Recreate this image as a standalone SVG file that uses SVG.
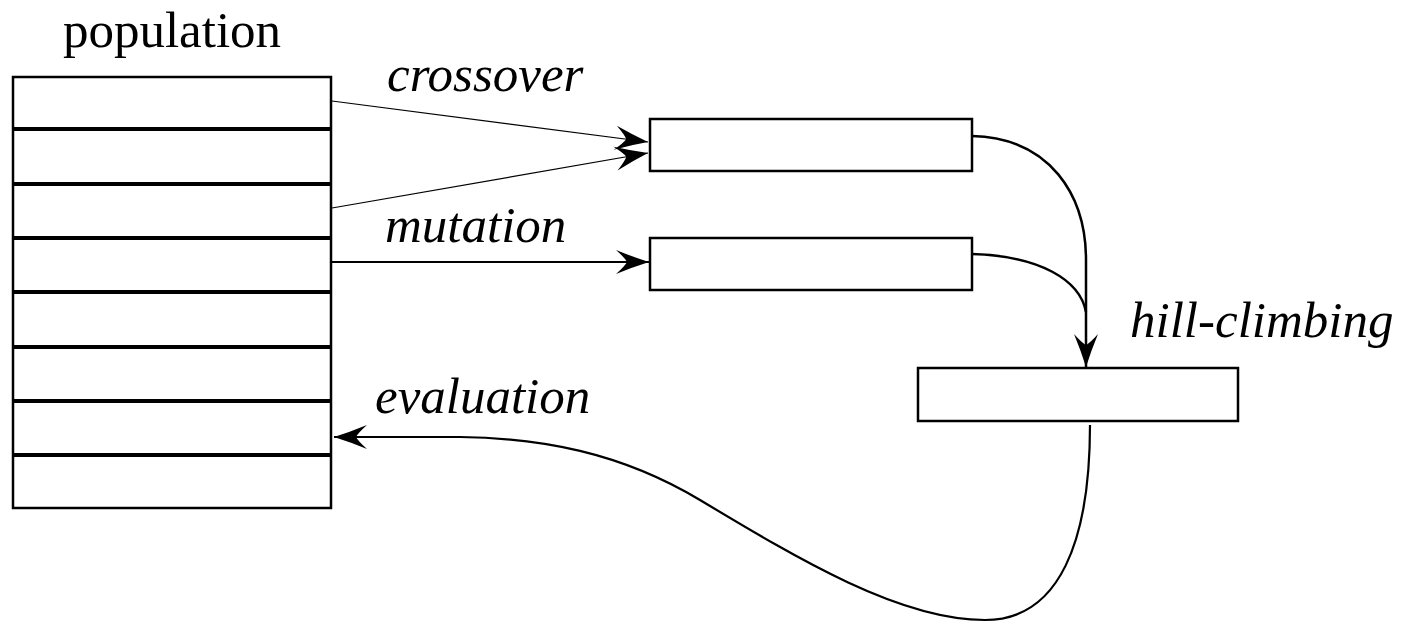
<svg xmlns="http://www.w3.org/2000/svg" width="1405" height="624" viewBox="0 0 1405 624">
<style>
.box{fill:#fff;stroke:#000;stroke-width:2.5}
.div{stroke:#000;stroke-width:4}
.lbl{font-family:"Liberation Serif","Times New Roman",serif;font-size:51px;fill:#000}
.it{font-style:italic}
.c{fill:none;stroke:#000}
</style>
<defs>
<marker id="arr" viewBox="-36 -14 38 28" markerWidth="38" markerHeight="28" refX="0" refY="0" orient="auto" markerUnits="userSpaceOnUse">
<path d="M0,0 Q-16,-5 -33,-12 Q-24,-4 -22,0 Q-24,4 -33,12 Q-16,5 0,0 Z" fill="#000"/>
</marker>
</defs>
<g id="population">
<text class="lbl" x="172" y="47" text-anchor="middle">population</text>
<rect class="box" x="13" y="77" width="318" height="431"/>
<line class="div" x1="13" y1="129" x2="331" y2="129"/>
<line class="div" x1="13" y1="184" x2="331" y2="184"/>
<line class="div" x1="13" y1="238" x2="331" y2="238"/>
<line class="div" x1="13" y1="292" x2="331" y2="292"/>
<line class="div" x1="13" y1="347" x2="331" y2="347"/>
<line class="div" x1="13" y1="401" x2="331" y2="401"/>
<line class="div" x1="13" y1="455" x2="331" y2="455"/>
</g>
<g id="crossover-box">
<rect class="box" x="650" y="119" width="322" height="52"/>
</g>
<g id="mutation-box">
<rect class="box" x="650" y="238" width="322" height="52"/>
</g>
<g id="hill-climbing-box">
<rect class="box" x="918" y="368" width="320" height="53"/>
</g>
<g id="labels">
<text class="lbl it" x="387" y="91">crossover</text>
<text class="lbl it" x="385" y="242">mutation</text>
<text class="lbl it" x="375" y="413">evaluation</text>
<text class="lbl it" x="1130" y="337">hill-climbing</text>
</g>
<g id="connectors">
<path class="c" stroke-width="1.2" d="M332,101 L648,142" marker-end="url(#arr)"/>
<path class="c" stroke-width="1.2" d="M332,208 L648,153" marker-end="url(#arr)"/>
<path class="c" stroke-width="2" d="M332,262 L649,262" marker-end="url(#arr)"/>
<path class="c" stroke-width="2.5" d="M972,136 C1050,138 1086,195 1086,260 L1086,367" marker-end="url(#arr)"/>
<path class="c" stroke-width="2.5" d="M972,254 C1040,256 1080,280 1086,312"/>
<path class="c" stroke-width="2.2" d="M1090,425 C1090,540 1060,620 985,620 C900,620 800,560 700,500 C620,452 540,438 460,437 L334,437" marker-end="url(#arr)"/>
</g>
</svg>
